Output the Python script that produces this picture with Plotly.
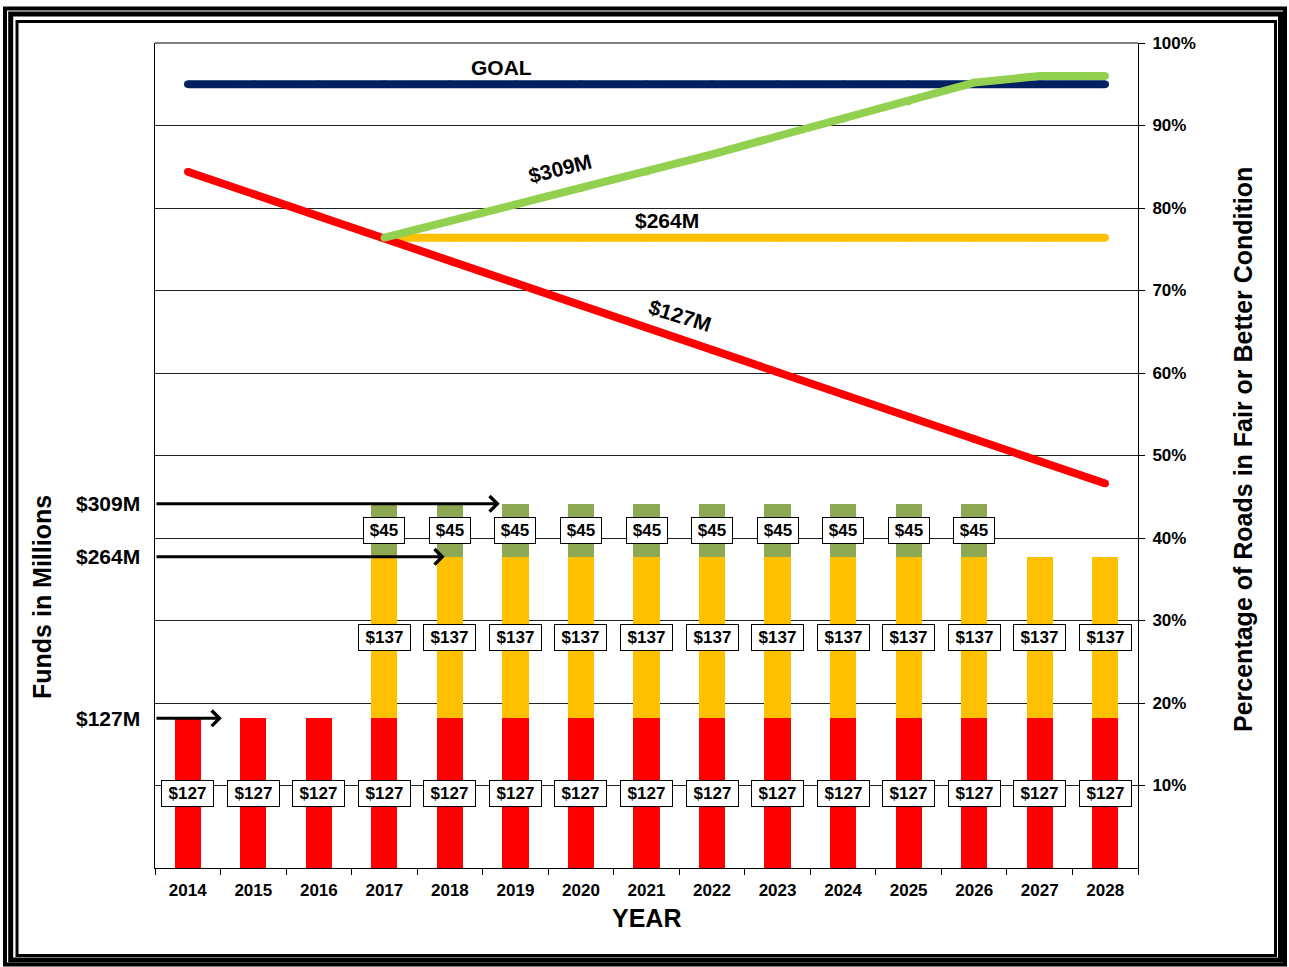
import plotly.graph_objects as go

# ---------------- data ----------------
years = ["2014", "2015", "2016", "2017", "2018", "2019", "2020", "2021",
         "2022", "2023", "2024", "2025", "2026", "2027", "2028"]
base_funds = [127] * 15                                  # red bars ($M)
add_264 = [None, None, None] + [137] * 12                # yellow bars ($M)
add_309 = [None, None, None] + [45] * 10 + [None, None]  # green bars ($M)

goal_pct = [95] * 15
pct_127 = [84.4, 81.7, 79.0, 76.3, 73.6, 70.9, 68.2, 65.5, 62.8, 60.1,
           57.4, 54.7, 52.0, 49.3, 46.6]
pct_264 = [None, None, None] + [76.4] * 12
pct_309 = [None, None, None, 76.4, 78.4, 80.4, 82.4, 84.4, 86.5, 88.7,
           90.8, 92.9, 95.2, 96.0, 96.0]

pct_ticks = [10, 20, 30, 40, 50, 60, 70, 80, 90, 100]
pct_ticktext = [f"{t}%" for t in pct_ticks]

level_labels = ["$127M", "$264M", "$309M"]
level_values = [127, 264, 309]

# ---------------- styling ----------------
FONT = "Liberation Sans, Arial, sans-serif"
RED, YEL, GRN_BAR, GRN_LINE, NAVY = "#FF0000", "#FFC000", "#8DA853", "#92D050", "#002060"
W, H = 1289, 967
L, T, R, B = 155, 43, 151, 99
PW, PH = W - L - R, H - T - B


def px_x(px):
    return (px - L) / PW


def px_y(py):
    return (H - B - py) / PH


fig = go.Figure()

fig.add_trace(go.Bar(x=years, y=base_funds, marker_color=RED, marker_line_width=0,
                     yaxis="y", showlegend=False))
fig.add_trace(go.Bar(x=years, y=add_264, marker_color=YEL, marker_line_width=0,
                     yaxis="y", showlegend=False))
fig.add_trace(go.Bar(x=years, y=add_309, marker_color=GRN_BAR, marker_line_width=0,
                     yaxis="y", showlegend=False))

LW = 8
for vals, col in [(goal_pct, NAVY), (pct_264, YEL), (pct_127, RED), (pct_309, GRN_LINE)]:
    fig.add_trace(go.Scatter(x=years, y=vals, yaxis="y2", mode="lines+markers",
                             line=dict(color=col, width=LW),
                             marker=dict(color=col, size=LW - 0.5, line_width=0),
                             connectgaps=False, showlegend=False))

ann = []


def box(i, y, text, w):
    ann.append(dict(x=i, y=y, xref="x", yref="y", text=f"<b>{text}</b>", showarrow=False,
                    xanchor="center", yanchor="middle",
                    font=dict(family=FONT, size=17, color="black"),
                    bgcolor="white", bordercolor="black", borderwidth=1, borderpad=3,
                    width=w, height=19))


for i, yr in enumerate(years):
    b = base_funds[i]
    box(i, b / 2, f"${b}", 45)
    if add_264[i] is not None:
        box(i, b + add_264[i] / 2, f"${add_264[i]}", 45)
        if add_309[i] is not None:
            box(i, b + add_264[i] + add_309[i] / 2, f"${add_309[i]}", 34)

# left level labels and arrows
arrow_heads = [0.52, 3.92, 4.76]  # category-index positions of arrow tips
for lab, val, hx in zip(level_labels, level_values, arrow_heads):
    ann.append(dict(x=px_x(142), y=val, xref="paper", yref="y", text=f"<b>{lab}</b>",
                    showarrow=False, xanchor="right", yanchor="middle",
                    font=dict(family=FONT, size=21, color="black")))
    ann.append(dict(x=hx, y=val, xref="x", yref="y", ax=-0.5, ay=val, axref="x", ayref="y",
                    text="", showarrow=True, arrowhead=4, arrowsize=1, arrowwidth=3,
                    arrowcolor="black", standoff=0))


def label(xp, yv, text, angle=0, size=21):
    ann.append(dict(x=px_x(xp), y=yv, xref="paper", yref="y2", text=f"<b>{text}</b>",
                    showarrow=False, textangle=angle, xanchor="center", yanchor="middle",
                    font=dict(family=FONT, size=size, color="black")))


label(501, 97.0, "GOAL")
label(560, 84.8, "$309M", -14)
label(667, 78.5, "$264M")
label(680, 67.0, "$127M", 17)


def title(xp, yp, text, angle):
    ann.append(dict(x=px_x(xp), y=px_y(yp), xref="paper", yref="paper", text=f"<b>{text}</b>",
                    showarrow=False, textangle=angle, xanchor="center", yanchor="middle",
                    font=dict(family=FONT, size=25, color="black")))


title(42, 597, "Funds in Millions", -90)
title(1243, 450, "Percentage of Roads in Fair or Better Condition", -90)
title(646, 918, "YEAR", 0)

# triple frame border
shapes = []
for (x0, y0, x1, y1, lw) in [(5, 8.5, 1285, 964.5, 4), (10.7, 14, 1280.5, 960, 5),
                             (17, 21.5, 1275.5, 955.5, 3)]:
    shapes.append(dict(type="rect", xref="paper", yref="paper",
                       x0=px_x(x0), x1=px_x(x1), y0=px_y(y1), y1=px_y(y0),
                       line=dict(color="black", width=lw), fillcolor="rgba(0,0,0,0)",
                       layer="above"))
shapes.append(dict(type="line", xref="paper", yref="paper", x0=0, x1=1, y0=1, y1=1,
                   line=dict(color="black", width=1)))

fig.update_layout(
    width=W, height=H, margin=dict(l=L, r=R, t=T, b=B),
    paper_bgcolor="white", plot_bgcolor="white",
    barmode="stack", bargap=0.6,
    font=dict(family=FONT, color="black"),
    xaxis=dict(type="category", tickson="boundaries", ticks="outside", ticklen=6,
               tickcolor="black", showline=True, linecolor="black", linewidth=1,
               showgrid=False, tickfont=dict(family=FONT, size=17, weight="bold"),
               ticklabelstandoff=7, range=[-0.5, 14.5]),
    yaxis=dict(range=[0, 700], showticklabels=False, showgrid=False, zeroline=False,
               showline=True, linecolor="black", linewidth=1, ticks=""),
    yaxis2=dict(overlaying="y", side="right", range=[0, 100], tickvals=pct_ticks,
                ticktext=pct_ticktext, ticks="outside", ticklen=6, tickcolor="black",
                showline=True, linecolor="black", linewidth=1,
                showgrid=True, gridcolor="#222222", gridwidth=1, zeroline=False,
                ticklabelstandoff=4,
                tickfont=dict(family=FONT, size=17, weight="bold")),
    annotations=ann, shapes=shapes,
)

fig.write_html("out.html")
